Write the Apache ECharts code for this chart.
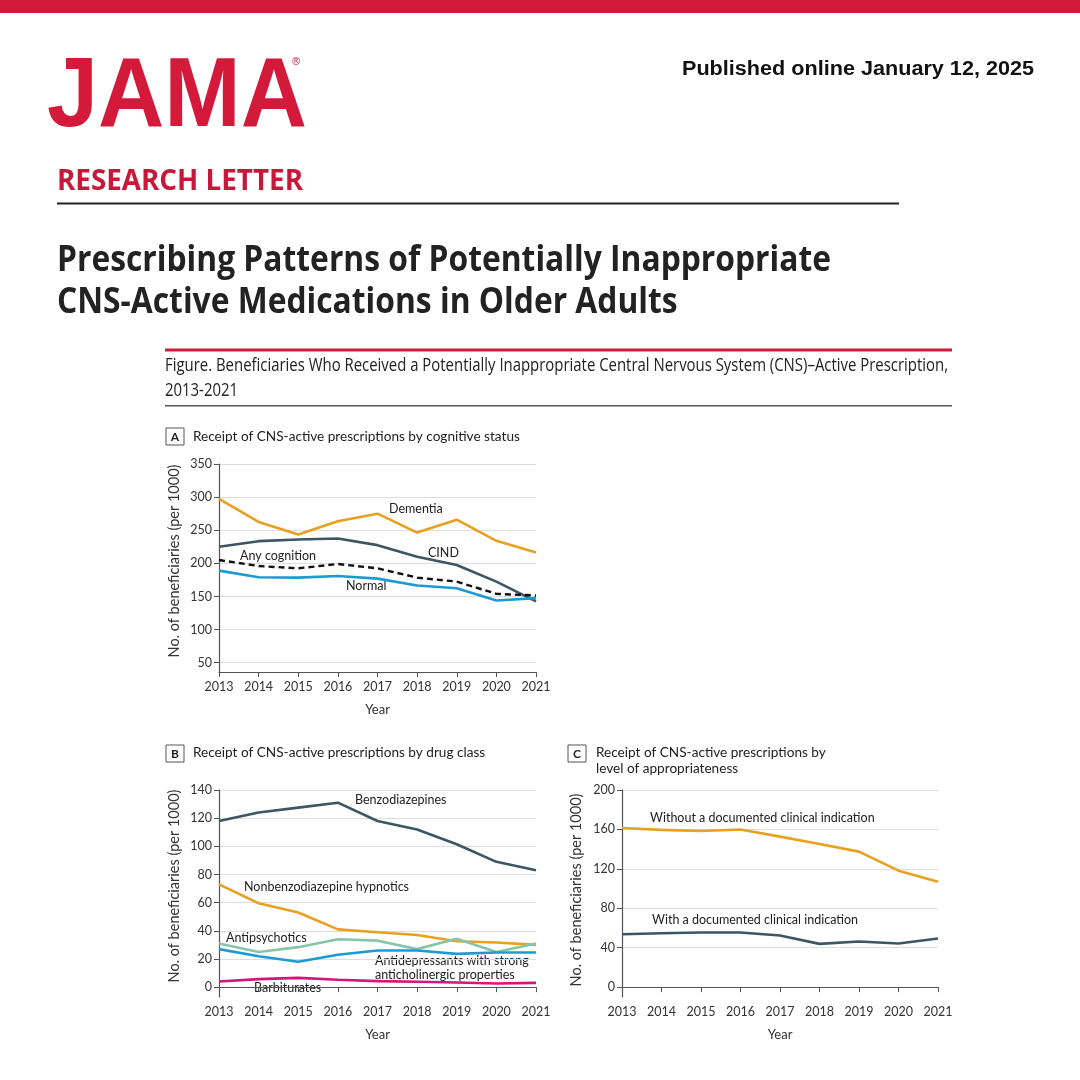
<!DOCTYPE html>
<html><head><meta charset="utf-8">
<script src="https://cdn.jsdelivr.net/npm/echarts@6/dist/echarts.min.js"></script>
<style>html,body{margin:0;padding:0;background:#fff}#c{width:1080px;height:1080px}</style>
</head><body><div id="c"></div>
<script>
const years = ['2013','2014','2015','2016','2017','2018','2019','2020','2021'];
// Panel A: by cognitive status
const dementia = [297.5, 262.5, 243.5, 263.5, 275, 246.5, 266, 234, 216.5];
const cind     = [225, 233.5, 236, 237.5, 227.5, 210, 197.5, 172.5, 142.5];
const anyCog   = [205, 196, 192.5, 199, 192.5, 178.5, 172.5, 154, 151.5];
const normal   = [189, 179, 178.5, 181, 177, 166.5, 162.5, 144, 147.5];
const ticksA   = [50, 100, 150, 200, 250, 300, 350];
// Panel B: by drug class
const benzo    = [118, 124, 127.5, 131, 118, 112, 101.5, 89, 83];
const nonbenzo = [73, 59.6, 53, 41, 39, 37, 32.6, 31.7, 30];
const antipsy  = [31, 25, 28.4, 34, 33, 27, 34.3, 25, 31];
const antidep  = [27, 22, 18, 23, 26, 26, 23.6, 24.6, 24.6];
const barbit   = [4, 5.7, 6.6, 5.2, 4.3, 3.8, 3.3, 2.6, 3];
const ticksB   = [0, 20, 40, 60, 80, 100, 120, 140];
// Panel C: by level of appropriateness
const without  = [161.5, 159.5, 158.4, 160, 152.7, 145.3, 137.5, 118.2, 106.8];
const withInd  = [53.7, 54.7, 55.4, 55.4, 52.4, 43.9, 46.3, 44.3, 49.3];
const ticksC   = [0, 40, 80, 120, 160, 200];

const FONT = 'Lato';
const C_ORANGE = '#e8a020', C_SLATE = '#3c5663', C_BLUE = '#1c9ad6', C_TEAL = '#86c6a6', C_MAG = '#d4157c';
const AX = '#555';
const RED = '#d31a3b';
const Y_NAME = 'No. of beneficiaries (per 1000)';

const mctx = document.createElement('canvas').getContext('2d');
function fitScale(text, font, w){ mctx.font = font; return w / mctx.measureText(text).width; }

function xAx(gi){
  return {gridIndex: gi, type:'category', data: years, boundaryGap:false,
    axisLine:{lineStyle:{color:AX, width:1.2}}, axisTick:{show:true, length:5, lineStyle:{color:AX}},
    axisLabel:{color:'#333', fontFamily:FONT, fontSize:12.5, margin:8},
    name:'Year', nameLocation:'middle', nameGap:31, nameTextStyle:{color:'#333', fontFamily:FONT, fontSize:13}};
}
function yAx(gi, min, max, ticks){
  return {gridIndex: gi, type:'value', min:min, max:max,
    axisLine:{show:true, lineStyle:{color:AX, width:1.2}},
    axisTick:{show:true, length:5, customValues:ticks, lineStyle:{color:AX}},
    axisLabel:{customValues:ticks, color:'#333', fontFamily:FONT, fontSize:12.5, margin:7},
    splitLine:{show:true, lineStyle:{color:'#dddddd', width:1}}};
}
function ln(name, data, xi, color, extra){
  return Object.assign({name, type:'line', data, xAxisIndex:xi, yAxisIndex:xi, symbol:'none',
    lineStyle:{color, width:2.6}, itemStyle:{color}, z:3, silent:true}, extra||{});
}
function txt(x, y, t, size){
  return {type:'text', x:x, y:y, style:{text:t, fill:'#222', font:`${size}px ${FONT}`, verticalAlign:'middle'}};
}
function yName(x, y){
  return {type:'text', x:x, y:y, rotation:Math.PI/2, style:{text:Y_NAME, fill:'#333', font:`14.5px ${FONT}`, align:'center', verticalAlign:'middle'}};
}
// text fitted to a given width, y = centre
function fitTxt(x, y, t, font, w, fill, scale){
  const s = scale || fitScale(t, font, w);
  return {type:'text', x:x, y:y, scaleX:s, style:{text:t, fill:fill, font:font, verticalAlign:'middle'}};
}
function box(x, y, letter){
  return [{type:'rect', shape:{x:x, y:y, width:18, height:17}, style:{fill:'#fff', stroke:'#555', lineWidth:1}},
    {type:'text', x:x+9, y:y+9, style:{text:letter, fill:'#222', font:`bold 12px ${FONT}`, align:'center', verticalAlign:'middle'}}];
}

const titleFont = 'bold 36px "Open Sans"';
const titleScale = fitScale('Prescribing Patterns of Potentially Inappropriate', titleFont, 774);
const capFont = '18px "Open Sans"';
const capScale = fitScale('Figure. Beneficiaries Who Received a Potentially Inappropriate Central Nervous System (CNS)–Active Prescription,', capFont, 783);

const chart = echarts.init(document.getElementById('c'), null, {renderer:'canvas'});
const option = {
  backgroundColor:'#fff',
  animation:false,
  grid:[
    {left:219, top:464, width:317, height:208},
    {left:219, top:790, width:317, height:207},
    {left:622, top:790, width:316, height:207}
  ],
  xAxis:[xAx(0), xAx(1), xAx(2)],
  yAxis:[yAx(0, 36, 350, ticksA), yAx(1, -7, 140, ticksB), yAx(2, -10, 200, ticksC)],
  series:[
    ln('Dementia', dementia, 0, C_ORANGE),
    ln('CIND', cind, 0, C_SLATE),
    ln('Normal', normal, 0, C_BLUE),
    ln('Any cognition', anyCog, 0, '#111', {lineStyle:{color:'#111', width:2.4, type:[6,4]}, z:4}),
    ln('Benzodiazepines', benzo, 1, C_SLATE),
    ln('Nonbenzodiazepine hypnotics', nonbenzo, 1, C_ORANGE),
    ln('Antipsychotics', antipsy, 1, C_TEAL),
    ln('Antidepressants with strong anticholinergic properties', antidep, 1, C_BLUE),
    ln('Barbiturates', barbit, 1, C_MAG),
    ln('Without a documented clinical indication', without, 2, C_ORANGE),
    ln('With a documented clinical indication', withInd, 2, C_SLATE)
  ],
  graphic:[
    {type:'rect', shape:{x:0, y:0, width:1080, height:13}, style:{fill:RED}},
    fitTxt(47, 99, 'JAMA', 'bold 98px "Liberation Sans"', 260, RED),
    {type:'text', x:296, y:62, style:{text:'®', fill:RED, font:'11px "Liberation Sans"', align:'center', verticalAlign:'middle'}},
    fitTxt(682, 70, 'Published online January 12, 2025', 'bold 19.5px "Liberation Sans"', 352, '#111'),
    fitTxt(57, 182, 'RESEARCH LETTER', 'bold 28px "Open Sans"', 246, '#c8183a'),
    {type:'rect', shape:{x:57, y:202.5, width:842, height:2}, style:{fill:'#222'}},
    fitTxt(57, 261, 'Prescribing Patterns of Potentially Inappropriate', titleFont, 774, '#222', titleScale),
    fitTxt(57, 303, 'CNS-Active Medications in Older Adults', titleFont, 0, '#222', titleScale),
    {type:'rect', shape:{x:165, y:348.5, width:787, height:3}, style:{fill:RED}},
    fitTxt(165, 366, 'Figure. Beneficiaries Who Received a Potentially Inappropriate Central Nervous System (CNS)–Active Prescription,', capFont, 783, '#222', capScale),
    fitTxt(165, 391, '2013-2021', capFont, 0, '#222', capScale),
    {type:'rect', shape:{x:165, y:405, width:787, height:1.5}, style:{fill:'#555'}},
    ...box(166, 428, 'A'),
    txt(193, 437, 'Receipt of CNS-active prescriptions by cognitive status', 13.6),
    ...box(166, 745, 'B'),
    txt(193, 753, 'Receipt of CNS-active prescriptions by drug class', 13.6),
    ...box(568, 745, 'C'),
    txt(596, 753, 'Receipt of CNS-active prescriptions by', 13.6),
    txt(596, 769, 'level of appropriateness', 13.6),
    yName(174, 561),
    yName(174, 886),
    yName(576, 890),
    txt(389, 509, 'Dementia', 12.5),
    txt(428, 553, 'CIND', 12.5),
    txt(240, 556, 'Any cognition', 12.5),
    txt(346, 586, 'Normal', 12.5),
    txt(355, 800, 'Benzodiazepines', 12.5),
    txt(244, 887, 'Nonbenzodiazepine hypnotics', 12.5),
    txt(226, 938, 'Antipsychotics', 12.5),
    txt(375, 961, 'Antidepressants with strong', 12.5),
    txt(375, 975, 'anticholinergic properties', 12.5),
    txt(254, 988, 'Barbiturates', 12.5),
    txt(650, 818, 'Without a documented clinical indication', 12.5),
    txt(652, 920, 'With a documented clinical indication', 12.5)
  ]
};
chart.setOption(option);
</script></body></html>
